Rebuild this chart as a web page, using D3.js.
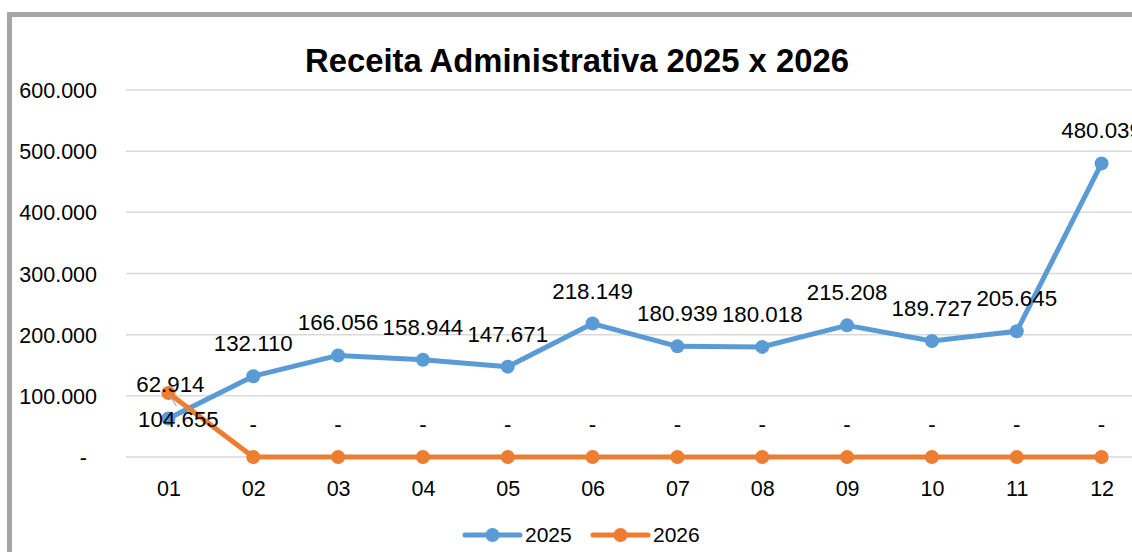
<!DOCTYPE html>
<html>
<head>
<meta charset="utf-8">
<script src="https://cdn.jsdelivr.net/npm/d3@7"></script>
<style>
	body { margin: 0; background: #fff; }
	svg text { font-family: "Liberation Sans", Arial, sans-serif; fill: #000; }
</style>
</head>
<body>
<svg id="chart" width="1132" height="552"></svg>
<script>
// Months on the x axis
const months = ["01", "02", "03", "04", "05", "06", "07", "08", "09", "10", "11", "12"];
// Monthly values (R$)
const values2025 = [62914, 132110, 166056, 158944, 147671, 218149, 180939, 180018, 215208, 189727, 205645, 480039];
const values2026 = [104655, 0, 0, 0, 0, 0, 0, 0, 0, 0, 0, 0];
const yTicks = [0, 100000, 200000, 300000, 400000, 500000, 600000];
const seriesNames = ["2025", "2026"];
const seriesColors = ["#5b9bd5", "#ed7d31"];

const svg = d3.select("#chart");

// pt-BR style number format: 62.914
const locale = d3.formatLocale({decimal: ",", thousands: ".", grouping: [3], currency: ["", ""]});
const fmt = locale.format(",.0f");
const fmtVal = (v) => v === 0 ? "-" : fmt(v);

// outer frame (chart border, cut off right/bottom)
svg.append("rect")
	.attr("x", 9.5).attr("y", 14.5)
	.attr("width", 1200).attr("height", 600)
	.attr("fill", "none")
	.attr("stroke", "#a6a6a6")
	.attr("stroke-width", 5);

const plot = {left: 126, right: 1144, top: 90, bottom: 457};

const x = d3.scalePoint()
	.domain(months)
	.range([plot.left, plot.right])
	.padding(0.5);

const y = d3.scaleLinear()
	.domain([0, 600000])
	.range([plot.bottom, plot.top]);

// title
svg.append("text")
	.attr("x", 577).attr("y", 72)
	.attr("text-anchor", "middle")
	.style("font-weight", "bold")
	.style("font-size", "32.8px")
	.text("Receita Administrativa 2025 x 2026");

// gridlines
svg.append("g")
	.selectAll("line")
	.data(yTicks)
	.enter().append("line")
	.attr("x1", plot.left).attr("x2", plot.right)
	.attr("y1", d => y(d)).attr("y2", d => y(d))
	.attr("stroke", "#d9d9d9")
	.attr("stroke-width", 1.5);

// y axis labels
const yAxis = d3.axisLeft(y)
	.tickValues(yTicks)
	.tickSize(0)
	.tickPadding(0)
	.tickFormat(fmtVal);

svg.append("g")
	.attr("transform", "translate(97,0)")
	.call(yAxis)
	.call(g => g.select(".domain").remove())
	.call(g => g.selectAll("text")
		.style("font-size", "21.5px")
		.attr("dy", "0.35em")
		.attr("dx", d => d === 0 ? -10 : 0));

// x axis labels
const xAxis = d3.axisBottom(x).tickSize(0).tickPadding(0);
svg.append("g")
	.attr("transform", "translate(0," + 480 + ")")
	.call(xAxis)
	.call(g => g.select(".domain").remove())
	.call(g => g.selectAll("text")
		.style("font-size", "21.5px")
		.attr("dy", "0.75em"));

const series = [
	{name: seriesNames[0], values: values2025, color: seriesColors[0]},
	{name: seriesNames[1], values: values2026, color: seriesColors[1]}
];

const line = d3.line()
	.x((d, i) => x(months[i]))
	.y(d => y(d));

// lines + markers, 2025 first so 2026 sits on top
series.forEach(s => {
	const g = svg.append("g");
	g.append("path")
		.datum(s.values)
		.attr("d", line)
		.attr("fill", "none")
		.attr("stroke", s.color)
		.attr("stroke-width", 5)
		.attr("stroke-linejoin", "round")
		.attr("stroke-linecap", "round");
	g.selectAll("circle")
		.data(s.values)
		.enter().append("circle")
		.attr("cx", (d, i) => x(months[i]))
		.attr("cy", d => y(d))
		.attr("r", 7)
		.attr("fill", s.color);
});

// leader line for the January label that was moved in the original
svg.append("line")
	.attr("x1", x(months[0]) + 1).attr("y1", y(values2026[0]) + 2)
	.attr("x2", x(months[0]) + 8).attr("y2", y(values2026[0]) + 13)
	.attr("stroke", "#a6a6a6")
	.attr("stroke-width", 1.2);

// data labels
series.forEach((s, si) => {
	svg.append("g")
		.selectAll("text")
		.data(s.values)
		.enter().append("text")
		.attr("x", (d, i) => {
			let px = x(months[i]);
			if (i === 0) px += (si === 0 ? 2 : 10);
			return px;
		})
		.attr("y", (d, i) => {
			if (i === 0) return si === 0 ? y(values2026[0]) - 1 : y(values2025[0]) + 8;
			return y(d) - 25;
		})
		.attr("text-anchor", "middle")
		.style("font-size", "22.3px")
		.text(d => fmtVal(d));
});

// legend
const legend = svg.append("g").attr("transform", "translate(0,535)");
const legendX = [465, 593];
series.forEach((s, i) => {
	const lg = legend.append("g").attr("transform", "translate(" + legendX[i] + ",0)");
	lg.append("line")
		.attr("x1", 0).attr("x2", 55)
		.attr("stroke", s.color)
		.attr("stroke-width", 5)
		.attr("stroke-linecap", "round");
	lg.append("circle")
		.attr("cx", 27.5).attr("r", 7)
		.attr("fill", s.color);
	lg.append("text")
		.attr("x", 60).attr("y", 0)
		.attr("dy", "0.35em")
		.style("font-size", "21px")
		.text(s.name);
});
</script>
</body>
</html>
